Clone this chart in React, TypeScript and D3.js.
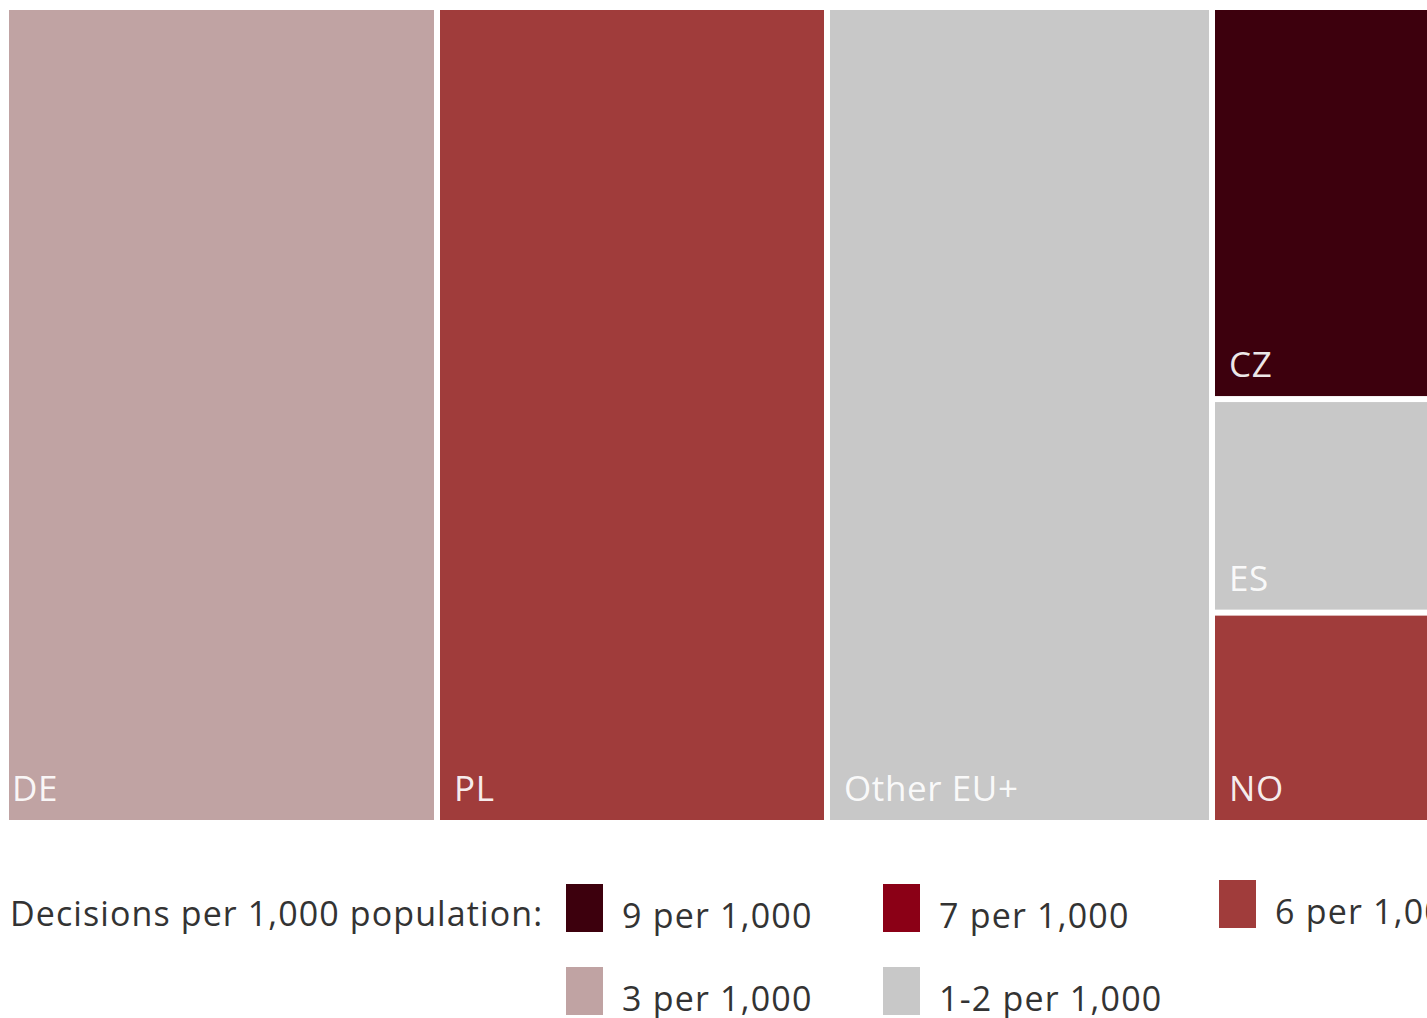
import React, { useRef, useEffect } from 'react';
import * as d3 from 'd3';

// Decisions (thousands, read from rectangle areas)
const countries = ['DE', 'PL', 'Other EU+'];
const countryValues = [431, 390, 385];
const countryRates = ['3', '6', '1-2'];

// right-hand stacked column
const stackCountries = ['CZ', 'ES', 'NO'];
const stackValues = [123, 67, 66];
const stackRates = ['9', '1-2', '6'];

const rateKeys = ['9', '7', '6', '3', '1-2'];
const rateLabels = ['9 per 1,000', '7 per 1,000', '6 per 1,000', '3 per 1,000', '1-2 per 1,000'];
const rateColors = ['#3D000D', '#8B0016', '#A03C3B', '#C0A3A3', '#C8C8C8'];

const W = 1427;
const H = 1018;
const FONT = '"Open Sans", sans-serif';

export default function App() {
  const svgRef = useRef<SVGSVGElement>(null);

  useEffect(() => {
    const svg = d3.select(svgRef.current);
    svg.selectAll('*').remove();

    const color = d3.scaleOrdinal<string, string>().domain(rateKeys).range(rateColors);

    const data = {
      name: 'root',
      children: [
        ...countries.map((c, i) => ({ name: c, value: countryValues[i], rate: countryRates[i] })),
        {
          name: 'stack',
          children: stackCountries.map((c, i) => ({ name: c, value: stackValues[i], rate: stackRates[i] })),
        },
      ],
    };

    const root = d3.hierarchy<any>(data).sum(d => d.value || 0);

    // columns left to right, the last column split top to bottom
    const tile = (node: any, x0: number, y0: number, x1: number, y1: number) => {
      if (node.depth === 0) d3.treemapDice(node, x0, y0, x1, y1);
      else d3.treemapSlice(node, x0, y0, x1, y1);
    };

    // treemap runs past the right edge of the page, as in the original crop
    d3.treemap<any>().tile(tile).size([1456, 810]).paddingInner(6)(root);

    const g = svg.append('g').attr('transform', 'translate(9,10)');

    const leaves = root.leaves() as any[];
    const cell = g.selectAll('g.cell').data(leaves).join('g').attr('class', 'cell');

    cell.append('rect')
      .attr('x', d => d.x0).attr('y', d => d.y0)
      .attr('width', d => d.x1 - d.x0).attr('height', d => d.y1 - d.y0)
      .attr('fill', d => color(d.data.rate));

    cell.append('text')
      .attr('x', d => d.x0 + (d.data.name === 'DE' ? 3 : 14))
      .attr('y', d => d.y1 - 19)
      .attr('fill', '#fff')
      .attr('fill-opacity', 0.92)
      .attr('font-family', FONT)
      .attr('font-size', 35)
      .attr('letter-spacing', 0.6)
      .text(d => d.data.name);

    // Legend
    const lg = svg.append('g');
    lg.append('text')
      .attr('x', 10).attr('y', 926)
      .attr('fill', '#333')
      .attr('font-family', FONT)
      .attr('font-size', 34)
      .attr('letter-spacing', 1.1)
      .text('Decisions per 1,000 population:');

    const colX = [566, 883, 1219];
    const rowY = [884, 967];
    const item = lg.selectAll('g.item').data(rateKeys).join('g').attr('class', 'item')
      .attr('transform', (d, i) => `translate(${colX[i % 3]},${rowY[Math.floor(i / 3)] - (i === 2 ? 4 : 0)})`);

    item.append('rect')
      .attr('width', 37).attr('height', 48)
      .attr('fill', d => color(d));

    item.append('text')
      .attr('x', 56).attr('y', 44)
      .attr('fill', '#333')
      .attr('font-family', FONT)
      .attr('font-size', 34)
      .attr('letter-spacing', 1.2)
      .text((d, i) => rateLabels[i]);
  }, []);

  return (
    <div style={{ position: 'fixed', left: 0, top: 0, width: W, height: H, overflow: 'hidden', background: '#fff' }}>
      <svg ref={svgRef} width={W} height={H} />
    </div>
  );
}
